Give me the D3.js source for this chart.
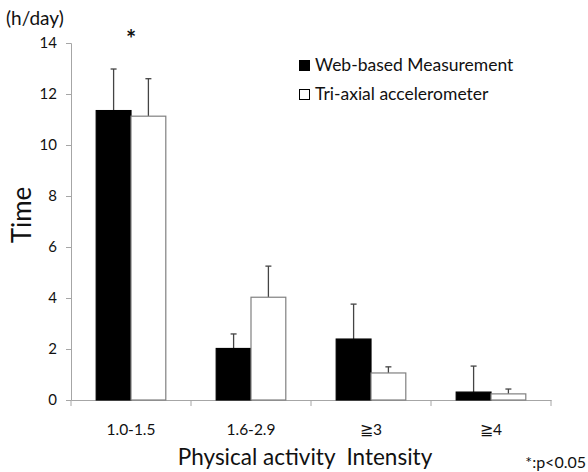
<!DOCTYPE html>
<html><head><meta charset="utf-8">
<script src="https://cdn.jsdelivr.net/npm/d3@7"></script>
<style>body{margin:0;background:#fff}svg{display:block}text{font-family:Lato,"Open Sans",sans-serif;fill:#111;white-space:pre}</style>
</head><body><svg id="c" width="588" height="472"></svg>
<script>
const categories = ["1.0-1.5", "1.6-2.9", "≧3", "≧4"];
const seriesNames = ["Web-based Measurement", "Tri-axial accelerometer"];
const webMeans = [11.35, 2.02, 2.39, 0.31];
const webSD = [1.63, 0.57, 1.37, 1.02];
const triMeans = [11.13, 4.03, 1.06, 0.24];
const triSD = [1.47, 1.22, 0.24, 0.19];
const yTicks = [0, 2, 4, 6, 8, 10, 12, 14];

const svg = d3.select("#c");
const m = {l: 71, r: 37, t: 43, b: 72};
const W = 588, H = 472;
const x = d3.scaleBand().domain(categories).range([m.l, W - m.r]).paddingInner(0.42).paddingOuter(0.21);
const x0 = d3.scaleBand().domain(categories).range([m.l, W - m.r]);
const xs = d3.scaleBand().domain([0, 1]).range([0, x.bandwidth()]);
const y = d3.scaleLinear().domain([0, 14]).range([H - m.b, m.t]);

// y axis
const ya = svg.append("g").attr("transform", `translate(${m.l},0)`)
  .call(d3.axisLeft(y).tickValues(yTicks).tickSize(5).tickPadding(9));
ya.select(".domain").attr("stroke", "#a6a6a6");
ya.selectAll(".tick line").attr("stroke", "#a6a6a6");
ya.selectAll(".tick text").style("font-size", "15px").attr("fill", "#111");

// x axis
const xa = svg.append("g").attr("transform", `translate(0,${y(0)})`)
  .call(d3.axisBottom(x0).tickSize(0).tickPadding(24));
xa.select(".domain").attr("stroke", "#a6a6a6");
xa.selectAll(".tick text").style("font-size", "15.5px").attr("fill", "#111");
xa.selectAll(".tick line").remove();
const edges = categories.map(c => x0(c)).concat([x0.range()[1]]);
svg.append("g").selectAll("line").data(edges).join("line")
  .attr("x1", d => d).attr("x2", d => d).attr("y1", y(0)).attr("y2", y(0) + 6)
  .attr("stroke", "#a6a6a6");

const series = [
  {means: webMeans, sd: webSD, fill: "#000", stroke: "#000"},
  {means: triMeans, sd: triSD, fill: "#fff", stroke: "#808080"}
];
series.forEach((s, si) => {
  const g = svg.append("g");
  categories.forEach((c, i) => {
    const bx = x(c) + xs(si);
    const bw = xs.bandwidth();
    const cx = bx + bw / 2;
    g.append("line").attr("x1", cx).attr("x2", cx)
      .attr("y1", y(s.means[i])).attr("y2", y(s.means[i] + s.sd[i]))
      .attr("stroke", "#444").attr("stroke-width", 1.3);
    g.append("line").attr("x1", cx - 3).attr("x2", cx + 3)
      .attr("y1", y(s.means[i] + s.sd[i])).attr("y2", y(s.means[i] + s.sd[i]))
      .attr("stroke", "#444").attr("stroke-width", 1.3);
    g.append("rect").attr("x", bx).attr("y", y(s.means[i]))
      .attr("width", bw).attr("height", y(0) - y(s.means[i]))
      .attr("fill", s.fill).attr("stroke", s.stroke).attr("stroke-width", 1.2);
  });
});

// texts
svg.append("text").attr("x", 6).attr("y", 25).style("font-size", "19px").text("(h/day)");
svg.append("text").attr("x", x(categories[0]) + x.bandwidth() / 2).attr("y", 48)
  .attr("text-anchor", "middle").style("font-size", "24px").style("font-weight", "bold").text("*");
svg.append("text").attr("transform", `translate(31,215) rotate(-90)`)
  .attr("text-anchor", "middle").style("font-size", "26px").text("Time");
svg.append("text").attr("x", 305).attr("y", 465).attr("text-anchor", "middle")
  .style("font-size", "22.5px").text("Physical activity  Intensity");
svg.append("text").attr("x", 586).attr("y", 468).attr("text-anchor", "end")
  .style("font-size", "16px").text("*:p<0.05");

// legend
const lg = svg.append("g");
seriesNames.forEach((n, i) => {
  const ly = 60 + i * 29;
  lg.append("rect").attr("x", 299.5).attr("y", ly + 0.5).attr("width", 10).attr("height", 10)
    .attr("fill", series[i].fill).attr("stroke", "#000").attr("stroke-width", 1);
  lg.append("text").attr("x", 315).attr("y", ly + 11).style("font-size", "17.5px").text(n);
});
</script></body></html>
